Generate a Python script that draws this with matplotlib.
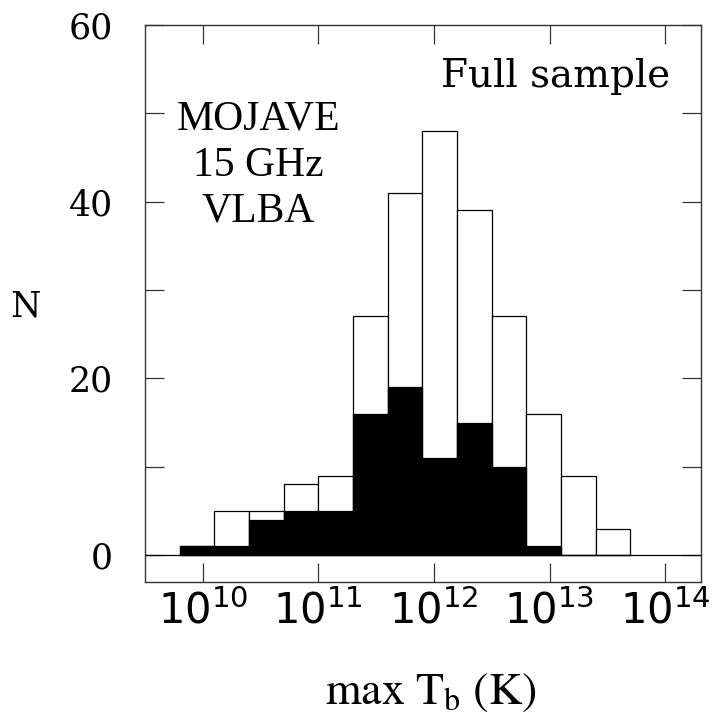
import numpy as np
import matplotlib
matplotlib.use("Agg")
import matplotlib.pyplot as plt
from matplotlib.ticker import FixedLocator, NullLocator

# log10 bin edges of max T_b, 0.3 dex wide
log_edges = [9.8, 10.1, 10.4, 10.7, 11.0, 11.3, 11.6, 11.9, 12.2, 12.5, 12.8, 13.1, 13.4, 13.7]
# counts: full sample (open) and subset (filled)
n_full = [1, 5, 5, 8, 9, 27, 41, 48, 39, 27, 16, 9, 3]
n_sub = [1, 1, 4, 5, 5, 16, 19, 11, 15, 10, 1, 0, 0]

x_ticks = [1e10, 1e11, 1e12, 1e13, 1e14]
x_ticklabels = ['$10^{10}$', '$10^{11}$', '$10^{12}$', '$10^{13}$', '$10^{14}$']
y_major = [0, 20, 40, 60]
y_minor = [10, 30, 50]

W, H = 712, 717
fig = plt.figure(figsize=(W / 100, H / 100), dpi=100)
ax = fig.add_axes([145 / W, 1 - 581.7 / H, (701 - 145) / W, (581.7 - 24.7) / H])

edges = 10 ** np.array(log_edges)
lefts = edges[:-1]
widths = edges[1:] - edges[:-1]

ax.bar(lefts, n_full, width=widths, align='edge', facecolor='white',
       edgecolor='black', linewidth=0.9, zorder=2)
ax.bar(lefts, n_sub, width=widths, align='edge', facecolor='black',
       edgecolor='black', linewidth=0.9, zorder=3)
ax.axhline(0, color='black', lw=0.9, zorder=4)

ax.set_xscale('log')
ax.set_xlim(10 ** 9.5, 10 ** 14.31)
ax.set_ylim(-3, 60)

ax.xaxis.set_major_locator(FixedLocator(x_ticks))
ax.xaxis.set_minor_locator(NullLocator())
ax.set_xticklabels(x_ticklabels, fontsize=30, family='DejaVu Sans')
ax.yaxis.set_major_locator(FixedLocator(y_major))
ax.yaxis.set_minor_locator(FixedLocator(y_minor))
ax.set_yticklabels([str(v) for v in y_major], fontsize=25, family='DejaVu Serif')

ax.tick_params(which='both', direction='in', top=True, right=True,
               length=13.7, width=0.9, color='#333333')
ax.tick_params(axis='x', pad=6)
ax.tick_params(axis='y', pad=23)
for s in ax.spines.values():
    s.set_linewidth(1.0)
    s.set_color('#333333')

ax.text((670 - 145) / 556, (581.7 - 86.7) / 557, 'Full sample', transform=ax.transAxes,
        ha='right', va='baseline', fontsize=28, family='DejaVu Serif')

for txt, base in [('MOJAVE', 129.3), ('15 GHz', 175.5), ('VLBA', 221.7)]:
    fig.text(258.5 / W, 1 - base / H, txt, ha='center', va='baseline',
             fontsize=30, family='Liberation Serif')

fig.text(25 / W, 1 - 316.7 / H, 'N', ha='center', va='baseline',
         fontsize=25, family='DejaVu Serif')
fig.text(430.5 / W, 1 - 704 / H, r'$\mathrm{max\ T_b\ (K)}$', ha='center',
         va='baseline', fontsize=33, math_fontfamily='stix')

fig.savefig('out.png', dpi=100)
